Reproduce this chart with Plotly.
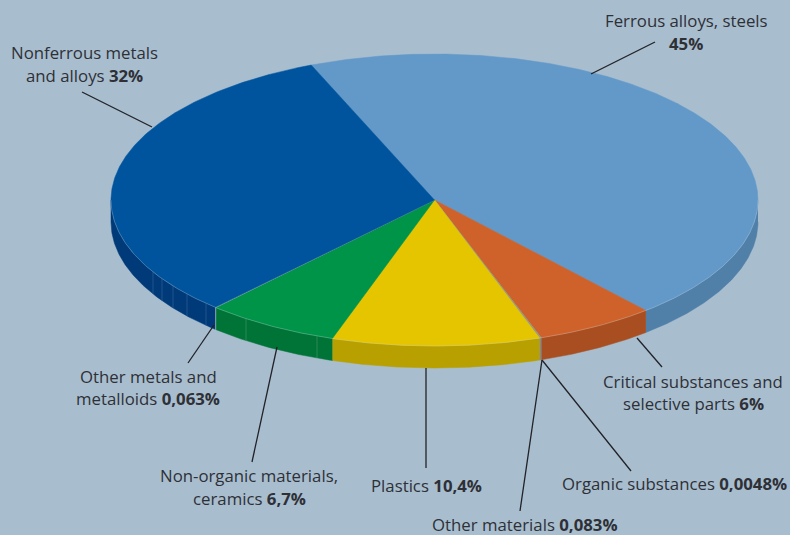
import numpy as np
import plotly.graph_objects as go

# Data (clockwise from the slice boundary at the upper left)
categories = ["Ferrous alloys, steels", "Critical substances and selective parts",
              "Organic substances", "Other materials", "Plastics",
              "Non-organic materials, ceramics", "Other metals and metalloids",
              "Nonferrous metals and alloys"]
values = [45, 6, 0.0048, 0.083, 10.4, 6.7, 0.063, 32]

# Styles
top_colors = ["#6299C8", "#CF622B", "#9A9A80", "#9A9A80", "#E5C500", "#009448", "#8FA8A8", "#00549D"]
wall_colors = ["#507FA8", "#A84E20", "#8A8A80", "#8A8A80", "#B7A000", "#007437", "#8FA8A8", "#003A78"]
BG = "#A8BECF"
TEXT = "#2F3036"

# Pie geometry, in page pixels
CX, CY, RX, RY, DEPTH = 434.5, 200.0, 323.5, 146.0, 22.0
START = -22.4

def ex(t):
    return CX + RX * np.sin(np.radians(t))

def ey(t):
    return CY - RY * np.cos(np.radians(t))

fractions = np.array(values) / sum(values)
edges = START + np.concatenate([[0], np.cumsum(fractions)]) * 360

fig = go.Figure()
# Side walls
for i in range(len(values)):
    a, b = max(edges[i], 90), min(edges[i + 1], 270)
    if b <= a:
        continue
    t = np.linspace(a, b, max(3, int((b - a) * 3)))
    xs = np.concatenate([ex(t), ex(t[::-1])])
    ys = np.concatenate([ey(t), ey(t[::-1]) + DEPTH])
    fig.add_trace(go.Scatter(x=xs, y=ys, mode="lines", fill="toself",
                             fillcolor=wall_colors[i],
                             line=dict(color=wall_colors[i], width=0.5),
                             hoverinfo="skip", showlegend=False))

# Faint panel seams on the walls (x position of each seam on the rim)
seam_x = [153, 162, 173, 187, 206, 246, 317]
seam_c = ["#2F5F93"] * 5 + ["#3B9464"] * 2
for sx, c in zip(seam_x, seam_c):
    t = 180 + np.degrees(np.arcsin((CX - sx) / RX))
    fig.add_trace(go.Scatter(x=[ex(t), ex(t)], y=[ey(t), ey(t) + DEPTH], mode="lines",
                             line=dict(color=c, width=0.7), hoverinfo="skip", showlegend=False))

# Top faces
for i in range(len(values)):
    t = np.linspace(edges[i], edges[i + 1], max(3, int((edges[i + 1] - edges[i]) * 3)))
    xs = np.concatenate([[CX], ex(t), [CX]])
    ys = np.concatenate([[CY], ey(t), [CY]])
    fig.add_trace(go.Scatter(x=xs, y=ys, mode="lines", fill="toself",
                             fillcolor=top_colors[i],
                             line=dict(color=top_colors[i], width=0.5),
                             hoverinfo="skip", showlegend=False))

# Thin light rim on the front edge
t = np.linspace(90, 270, 500)
fig.add_trace(go.Scatter(x=ex(t), y=ey(t), mode="lines",
                         line=dict(color="rgba(210,220,225,0.35)", width=0.8),
                         hoverinfo="skip", showlegend=False))

# Leader lines
leaders = [((591, 74), (655, 42)), ((152, 127), (82, 92)), ((214, 325), (188, 363)),
           ((277, 347), (252, 462)), ((426, 368), (426, 468)), ((542, 360), (520, 511)),
           ((542, 360), (631, 471)), ((637, 338), (662, 367))]
for p, q in leaders:
    fig.add_shape(type="line", x0=p[0], y0=p[1], x1=q[0], y1=q[1], xref="x", yref="y",
                  line=dict(color="#222227", width=1.3))

# Labels, one entry per line of text
labels = [("Ferrous alloys, steels", 686, 20), ("<b>45%</b>", 686, 43),
          ("Nonferrous metals", 84, 52), ("and alloys <b>32%</b>", 84, 75),
          ("Other metals and", 148, 376), ("metalloids <b>0,063%</b>", 148, 398),
          ("Non-organic materials,", 249, 475), ("ceramics <b>6,7%</b>", 249, 498),
          ("Plastics <b>10,4%</b>", 426, 485),
          ("Other materials <b>0,083%</b>", 525, 524),
          ("Organic substances <b>0,0048%</b>", 674, 483),
          ("Critical substances and", 693, 381), ("selective parts <b>6%</b>", 693, 403)]
for text, x, y in labels:
    fig.add_annotation(text=text, x=x, y=y, xref="x", yref="y", showarrow=False,
                       xanchor="center", yanchor="middle", borderpad=0,
                       font=dict(family="Open Sans", size=16.8, color=TEXT))

fig.update_layout(width=790, height=535, margin=dict(l=0, r=0, t=0, b=0),
                  paper_bgcolor=BG, plot_bgcolor=BG, showlegend=False,
                  xaxis=dict(range=[0, 790], visible=False, fixedrange=True),
                  yaxis=dict(range=[535, 0], visible=False, fixedrange=True))
fig.write_html("out.html", config={"displayModeBar": False},
               post_script="document.body.style.margin='0';document.documentElement.style.overflow='hidden';")
